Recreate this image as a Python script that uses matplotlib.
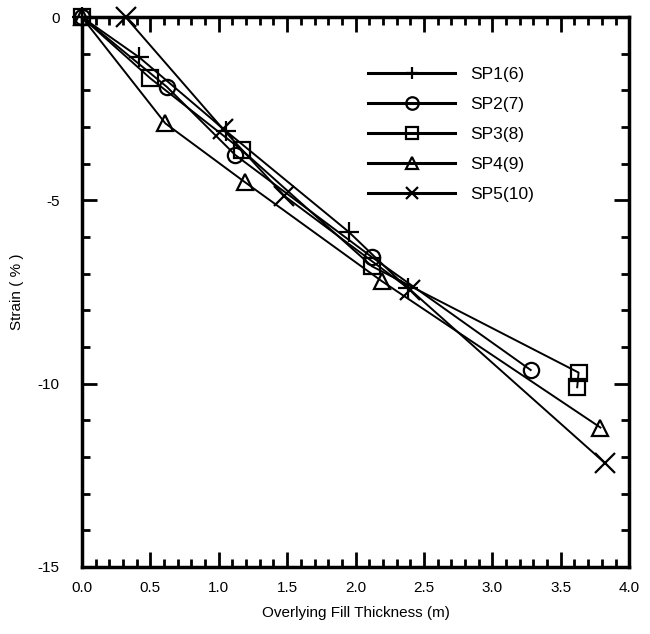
import matplotlib
matplotlib.use('Agg')
import matplotlib.pyplot as plt
from matplotlib.ticker import MultipleLocator

# values (fill thickness in m, strain in %)
sp1_x = [0.0, 0.42, 1.05, 1.95, 2.38]
sp1_y = [0.0, -1.10, -3.10, -5.86, -7.40]
sp2_x = [0.0, 0.62, 1.12, 2.12, 3.28]
sp2_y = [0.0, -1.90, -3.76, -6.55, -9.63]
sp3_x = [0.0, 0.50, 1.17, 2.12, 3.63, 3.62]
sp3_y = [0.0, -1.67, -3.63, -6.80, -9.70, -10.10]
sp4_x = [0.0, 0.61, 1.19, 2.19, 3.79]
sp4_y = [0.0, -2.90, -4.50, -7.20, -11.20]
sp5_x = [0.32, 1.03, 1.48, 2.40, 3.82]
sp5_y = [0.0, -3.05, -4.88, -7.44, -12.16]

labels = ['SP1(6)', 'SP2(7)', 'SP3(8)', 'SP4(9)', 'SP5(10)']
markers = ['+', 'o', 's', '^', 'x']

plt.rcParams['font.family'] = ['Liberation Sans Narrow', 'Liberation Sans', 'DejaVu Sans']

fig = plt.figure(figsize=(6.5, 6.34), dpi=100)
ax = fig.add_axes([0.126, 0.106, 0.842, 0.867])

series = [(sp1_x, sp1_y), (sp2_x, sp2_y), (sp3_x, sp3_y), (sp4_x, sp4_y), (sp5_x, sp5_y)]
for (xs, ys), lab, mk in zip(series, labels, markers):
    ms = 14 if mk in ('+', 'x') else 11
    ax.plot(xs, ys, color='black', linewidth=1.4, marker=mk, markersize=ms,
            markerfacecolor='none', markeredgecolor='black', markeredgewidth=1.6,
            label=lab, clip_on=False, zorder=3)

ax.set_xlim(0, 4.0)
ax.set_ylim(-15, 0)

ax.xaxis.set_major_locator(MultipleLocator(0.5))
ax.xaxis.set_minor_locator(MultipleLocator(0.1))
ax.yaxis.set_major_locator(MultipleLocator(5))
ax.yaxis.set_minor_locator(MultipleLocator(1))
ax.xaxis.set_major_formatter(plt.FuncFormatter(lambda v, p: f'{v:.1f}'))
ax.yaxis.set_major_formatter(plt.FuncFormatter(lambda v, p: f'{v:g}'))

ax.tick_params(which='both', direction='in', top=True, right=True, width=2, labelsize=11)
ax.tick_params(which='major', length=11)
ax.tick_params(which='minor', length=6)
ax.tick_params(axis='x', pad=10)
ax.tick_params(axis='y', pad=16)

for spine in ax.spines.values():
    spine.set_linewidth(2.5)
    spine.set_color('black')

ax.set_xlabel('Overlying Fill Thickness (m)', fontsize=11, labelpad=8)
ax.set_ylabel('Strain ( % )', fontsize=11, labelpad=10)

leg = ax.legend(loc='upper left', bbox_to_anchor=(0.523, 0.909), frameon=False,
                fontsize=12.5, handlelength=5.0, handletextpad=0.9, labelspacing=0.85,
                borderaxespad=0, borderpad=0)
for line in leg.get_lines():
    line.set_linewidth(2.2)
    line.set_markersize(9)

fig.savefig('out.png', dpi=100)
